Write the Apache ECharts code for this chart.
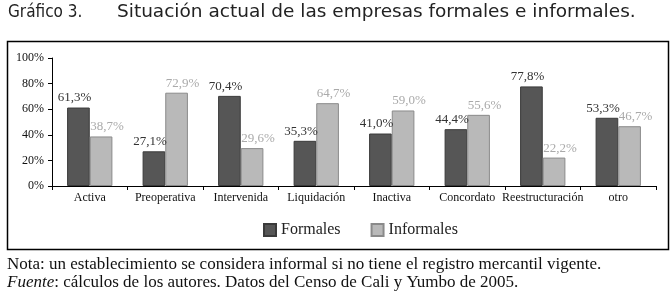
<!DOCTYPE html>
<html>
<head>
<meta charset="utf-8">
<script src="https://cdn.jsdelivr.net/npm/echarts@6/dist/echarts.min.js"></script>
<style>
  html, body { margin: 0; padding: 0; background: #fff; }
  #chart { width: 672px; height: 302px; }
</style>
</head>
<body>
<div id="chart"></div>
<script>
// categorías y porcentajes
var categorias = ['Activa', 'Preoperativa', 'Intervenida', 'Liquidación', 'Inactiva', 'Concordato', 'Reestructuración', 'otro']
var formales = [61.3, 27.1, 70.4, 35.3, 41.0, 44.4, 77.8, 53.3]
var informales = [38.7, 72.9, 29.6, 64.7, 59.0, 55.6, 22.2, 46.7]
var ticksY = [0, 20, 40, 60, 80, 100]

var serif = '"Liberation Serif", "Times New Roman", serif'
var sans = '"DejaVu Sans", sans-serif'

function pct (v) {
  return v.toFixed(1).replace('.', ',') + '%'
}

var chart = echarts.init(document.getElementById('chart'))
var options = {
  animation: false,
  textStyle: { fontFamily: serif },
  // recuadro, título y notas
  graphic: [
    {
      type: 'rect',
      shape: { x: 7.5, y: 41.5, width: 661, height: 208 },
      style: { fill: 'none', stroke: '#000', lineWidth: 1.5 },
      z: -1
    },
    {
      type: 'text',
      left: 8,
      top: 4,
      style: { text: 'Gráfico 3.', font: '17px "DejaVu Sans Condensed", sans-serif', fill: '#222' }
    },
    {
      type: 'text',
      left: 117,
      top: 3,
      style: { text: 'Situación actual de las empresas formales e informales.', font: '18.5px ' + sans, fill: '#222' }
    },
    {
      type: 'text',
      left: 7,
      top: 256,
      style: { text: 'Nota: un establecimiento se considera informal si no tiene el registro mercantil vigente.', font: '17px ' + serif, fill: '#111' }
    },
    {
      type: 'text',
      left: 7,
      top: 274,
      style: {
        text: '{i|Fuente}: cálculos de los autores. Datos del Censo de Cali y Yumbo de 2005.',
        font: '17px ' + serif,
        fill: '#111',
        rich: { i: { fontStyle: 'italic', fontSize: 17, fontFamily: serif, fill: '#111' } }
      }
    }
  ],
  legend: {
    top: 217,
    left: 258,
    itemWidth: 12,
    itemHeight: 12,
    itemGap: 30,
    icon: 'rect',
    textStyle: { fontFamily: serif, fontSize: 16, color: '#222' },
    data: ['Formales', 'Informales']
  },
  grid: {
    left: 52,
    right: 16,
    top: 58,
    bottom: 116,
    containLabel: false
  },
  xAxis: {
    type: 'category',
    data: categorias,
    axisLine: { lineStyle: { color: '#000', width: 1 } },
    axisTick: { show: true, length: 4, alignWithLabel: false, lineStyle: { color: '#000' } },
    axisLabel: { fontFamily: serif, fontSize: 12, color: '#111', margin: 6, interval: 0 }
  },
  yAxis: {
    type: 'value',
    min: 0,
    max: 100,
    interval: 20,
    axisLine: { show: true, lineStyle: { color: '#000', width: 1 } },
    axisTick: { show: true, length: 4, lineStyle: { color: '#000' } },
    splitLine: { show: false },
    axisLabel: {
      fontFamily: serif,
      fontSize: 12,
      color: '#111',
      margin: 8,
      formatter: function (v) {
        return ticksY.indexOf(v) >= 0 ? v + '%' : ''
      }
    }
  },
  series: [
    {
      name: 'Formales',
      type: 'bar',
      data: formales,
      barWidth: '30%',
      barGap: '0%',
      itemStyle: { color: '#565656', borderColor: '#3a3a3a', borderWidth: 1 },
      label: {
        show: true,
        position: 'top',
        distance: 3,
        offset: [-4, 0],
        fontFamily: serif,
        fontSize: 13,
        color: '#333',
        formatter: function (p) { return pct(p.value) }
      }
    },
    {
      name: 'Informales',
      type: 'bar',
      data: informales,
      barWidth: '30%',
      itemStyle: { color: '#b9b9b9', borderColor: '#8a8a8a', borderWidth: 1 },
      label: {
        show: true,
        position: 'top',
        distance: 3,
        offset: [6, 0],
        fontFamily: serif,
        fontSize: 13,
        color: '#aaaaaa',
        formatter: function (p) { return pct(p.value) }
      }
    }
  ]
}
chart.setOption(options, true)
</script>
</body>
</html>
